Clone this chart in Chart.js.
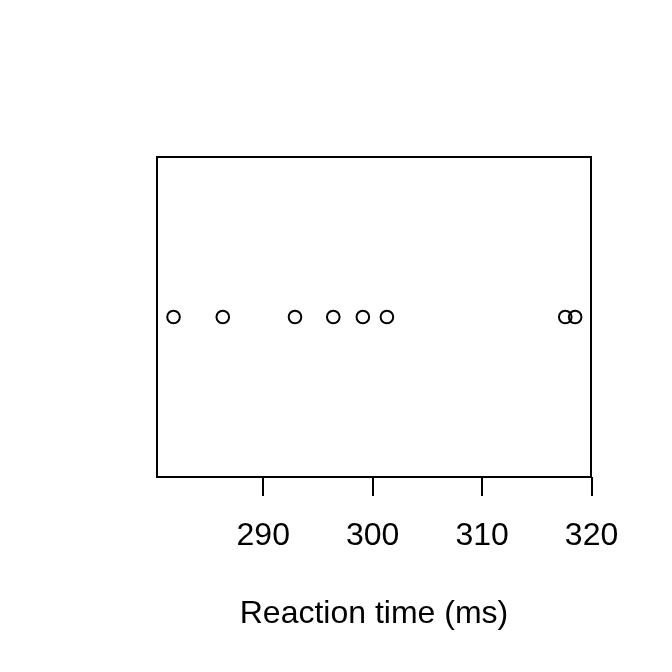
<!DOCTYPE html>
<html>
<head>
<meta charset="utf-8">
<script src="https://cdn.jsdelivr.net/npm/chart.js@4/dist/chart.umd.min.js"></script>
<style>
  html, body { margin: 0; padding: 0; background: #fff; }
  #wrap { width: 672px; height: 672px; }
</style>
</head>
<body>
<div id="wrap"><canvas id="strip"></canvas></div>
<script>
// reaction times
const reactionTimes = [281.8, 286.3, 292.9, 296.4, 299.1, 301.3, 317.6, 318.5];
const xTicks = [290, 300, 310, 320];
const xTitle = "Reaction time (ms)";

// draws the R-style box round the plot region
const boxPlugin = {
  id: "box",
  afterDraw(chart) {
    const { ctx, chartArea } = chart;
    ctx.save();
    ctx.strokeStyle = "black";
    ctx.lineWidth = 2;
    ctx.strokeRect(chartArea.left, chartArea.top,
      chartArea.right - chartArea.left, chartArea.bottom - chartArea.top);
    ctx.restore();
  },
};

const config = {
  type: "scatter",
  data: {
    datasets: [
      {
        data: reactionTimes.map((v) => ({ x: v, y: 1 })),
        pointStyle: "circle",
        pointRadius: 6.3,
        pointBorderWidth: 2,
        borderColor: "black",
        backgroundColor: "rgba(0,0,0,0)",
      },
    ],
  },
  options: {
    responsive: false,
    animation: false,
    layout: { padding: { left: 157, right: 81, top: 157, bottom: 0 } },
    plugins: { legend: { display: false }, tooltip: { enabled: false } },
    scales: {
      y: { display: false, min: 0, max: 2 },
      x: {
        type: "linear",
        min: 280.29,
        max: 319.95,
        afterBuildTicks: (scale) => {
          scale.ticks = xTicks.map((v) => ({ value: v }));
        },
        afterFit: (scale) => {
          scale.height = 195;
        },
        border: { display: false },
        grid: {
          drawOnChartArea: false,
          tickLength: 19,
          color: "black",
          lineWidth: 2,
        },
        ticks: {
          color: "black",
          padding: 21,
          maxRotation: 0,
          font: { family: "Liberation Sans", size: 32 },
        },
        title: {
          display: true,
          text: xTitle,
          color: "black",
          font: { family: "Liberation Sans", size: 32 },
          padding: { top: 0, bottom: 39 },
        },
      },
    },
  },
  plugins: [boxPlugin],
};

const canvas = document.getElementById("strip");
canvas.width = 672;
canvas.height = 672;
new Chart(canvas.getContext("2d"), config);
</script>
</body>
</html>
